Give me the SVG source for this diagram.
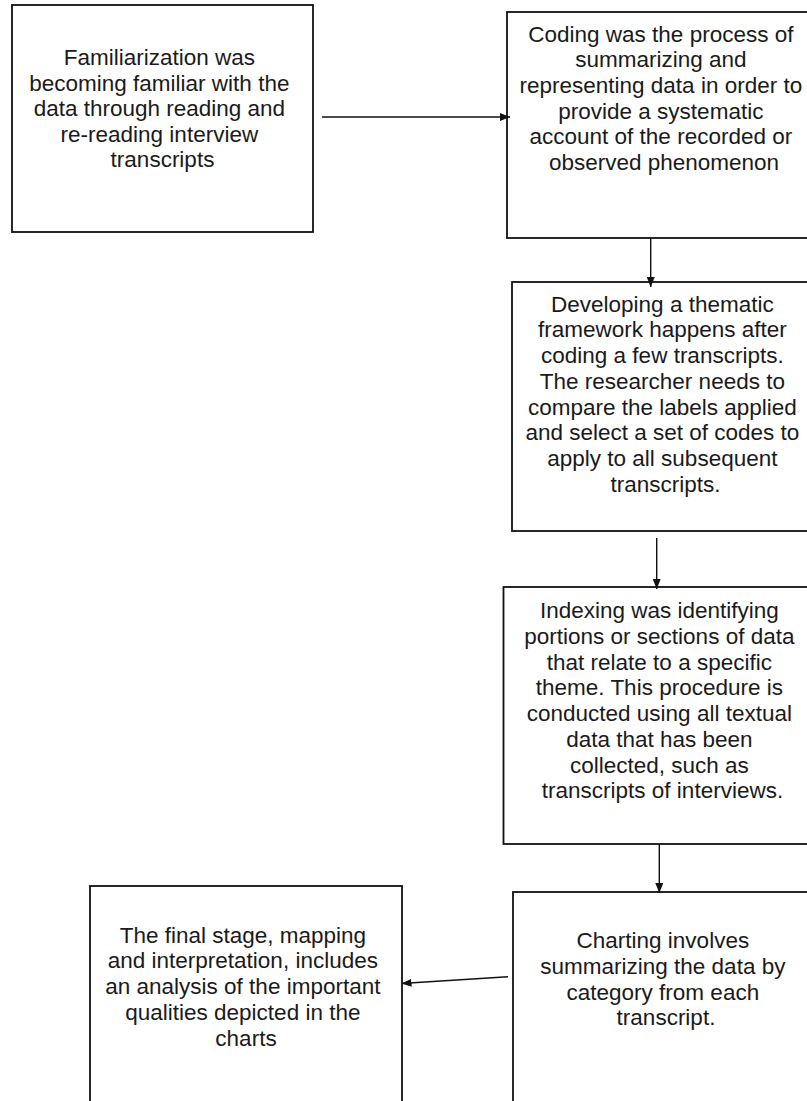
<svg xmlns="http://www.w3.org/2000/svg" width="807" height="1101" viewBox="0 0 807 1101">
  <defs>
    <marker id="arrow" markerUnits="userSpaceOnUse" markerWidth="10" markerHeight="8" refX="10" refY="4" orient="auto">
      <path d="M0,0 L10,4 L0,8 Z" fill="#111"/>
    </marker>
    <style>
      .box { fill: #fff; stroke: #111; stroke-width: 1.8; }
      .label { font-family: "Liberation Sans", Arial, sans-serif; font-size: 22.5px; fill: #1a1a1a; text-anchor: middle; }
      .conn { stroke: #111; stroke-width: 1.4; fill: none; marker-end: url(#arrow); }
    </style>
  </defs>
  <rect width="807" height="1101" fill="#fff"/>

  <!-- Stage 1: familiarization -->
  <g id="familiarization">
    <rect class="box" x="12" y="5" width="301" height="227"/>
    <text class="label">
      <tspan x="162.5" y="65">Familiarization was</tspan>
      <tspan x="162.5" y="90.5">becoming familiar with the</tspan>
      <tspan x="162.5" y="116">data through reading and</tspan>
      <tspan x="162.5" y="141.5">re-reading interview</tspan>
      <tspan x="162.5" y="167">transcripts</tspan>
    </text>
  </g>

  <!-- Stage 2: coding -->
  <g id="coding">
    <rect class="box" x="507" y="12" width="314" height="226"/>
    <text class="label">
      <tspan x="664" y="41.5">Coding was the process of</tspan>
      <tspan x="664" y="67.2">summarizing and</tspan>
      <tspan x="664" y="92.9">representing data in order to</tspan>
      <tspan x="664" y="118.6">provide a systematic</tspan>
      <tspan x="664" y="144.3">account of the recorded or</tspan>
      <tspan x="664" y="170">observed phenomenon</tspan>
    </text>
  </g>

  <!-- Stage 3: thematic framework -->
  <g id="framework">
    <rect class="box" x="512" y="282" width="307" height="249"/>
    <text class="label">
      <tspan x="665.5" y="311.7">Developing a thematic</tspan>
      <tspan x="665.5" y="337.4">framework happens after</tspan>
      <tspan x="665.5" y="363.1">coding a few transcripts.</tspan>
      <tspan x="665.5" y="388.8">The researcher needs to</tspan>
      <tspan x="665.5" y="414.5">compare the labels applied</tspan>
      <tspan x="665.5" y="440.2">and select a set of codes to</tspan>
      <tspan x="665.5" y="465.9">apply to all subsequent</tspan>
      <tspan x="665.5" y="491.6">transcripts.</tspan>
    </text>
  </g>

  <!-- Stage 4: indexing -->
  <g id="indexing">
    <rect class="box" x="503.5" y="587" width="318" height="257"/>
    <text class="label">
      <tspan x="662.5" y="618.3">Indexing was identifying</tspan>
      <tspan x="662.5" y="644">portions or sections of data</tspan>
      <tspan x="662.5" y="669.7">that relate to a specific</tspan>
      <tspan x="662.5" y="695.4">theme. This procedure is</tspan>
      <tspan x="662.5" y="721.1">conducted using all textual</tspan>
      <tspan x="662.5" y="746.8">data that has been</tspan>
      <tspan x="662.5" y="772.5">collected, such as</tspan>
      <tspan x="662.5" y="798.2">transcripts of interviews.</tspan>
    </text>
  </g>

  <!-- Stage 5: charting -->
  <g id="charting">
    <rect class="box" x="513" y="892" width="306" height="220"/>
    <text class="label">
      <tspan x="666" y="948.3">Charting involves</tspan>
      <tspan x="666" y="974">summarizing the data by</tspan>
      <tspan x="666" y="999.7">category from each</tspan>
      <tspan x="666" y="1025.4">transcript.</tspan>
    </text>
  </g>

  <!-- Stage 6: mapping and interpretation -->
  <g id="mapping">
    <rect class="box" x="90" y="886" width="312" height="226"/>
    <text class="label">
      <tspan x="246" y="942.7">The final stage, mapping</tspan>
      <tspan x="246" y="968.4">and interpretation, includes</tspan>
      <tspan x="246" y="994.1">an analysis of the important</tspan>
      <tspan x="246" y="1019.8">qualities depicted in the</tspan>
      <tspan x="246" y="1045.5">charts</tspan>
    </text>
  </g>

  <!-- Flow between stages -->
  <g id="connectors">
    <line class="conn" x1="322" y1="117" x2="510" y2="117"/>
    <line class="conn" x1="650.7" y1="238" x2="650.7" y2="287"/>
    <line class="conn" x1="656.7" y1="538" x2="656.7" y2="589"/>
    <line class="conn" x1="659.3" y1="844" x2="659.3" y2="893"/>
    <line class="conn" x1="508" y1="976.7" x2="401.5" y2="983.5"/>
  </g>
</svg>
